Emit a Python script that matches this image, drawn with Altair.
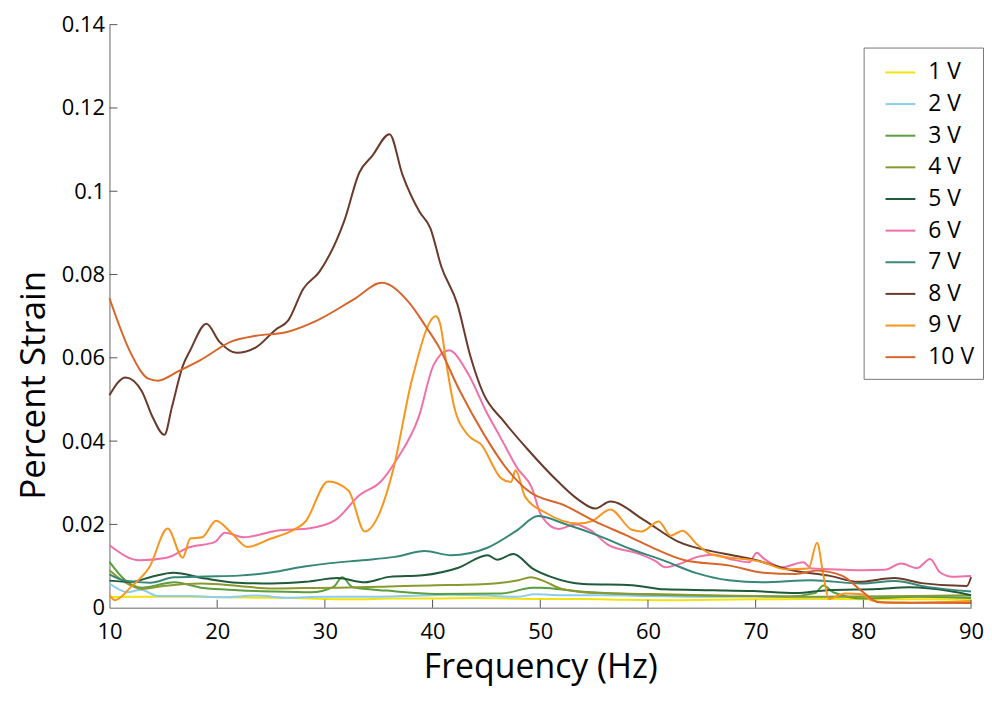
import altair as alt
import pandas as pd

labels = ["1 V", "2 V", "3 V", "4 V", "5 V", "6 V", "7 V", "8 V", "9 V", "10 V"]
colors = ["#F2E30C", "#8CCDEE", "#5A9E3E", "#8A9A30", "#1F5A3A",
          "#F270A8", "#378878", "#6A3A2A", "#F7951E", "#D8652B"]

x_ticks = [10, 20, 30, 40, 50, 60, 70, 80, 90]
y_ticks = [0, 0.02, 0.04, 0.06, 0.08, 0.10, 0.12, 0.14]

f1 = [10, 12, 15, 18, 21, 24, 27, 30, 33, 36, 40, 44, 47, 50, 54, 58, 62, 66, 70, 74, 78, 82, 86, 90]
s1 = [0.0025, 0.0026, 0.0026, 0.0026, 0.0025, 0.0024, 0.0023, 0.0021, 0.0020, 0.0022, 0.0022, 0.0023,
      0.0022, 0.0021, 0.0021, 0.0019, 0.0018, 0.0019, 0.0020, 0.0021, 0.0021, 0.0020, 0.0020, 0.0019]

f2 = [10, 11.7, 12.9, 14.5, 17.5, 20.6, 23.6, 26.6, 29.7, 32.7, 36, 39, 41.7, 45, 47.8, 49.5, 52, 56,
      60, 65, 70, 75, 80, 85, 90]
s2 = [0.0058, 0.0037, 0.0043, 0.0028, 0.0028, 0.0025, 0.0029, 0.0024, 0.0026, 0.0026, 0.0027, 0.0029,
      0.0031, 0.0029, 0.0026, 0.0032, 0.0030, 0.0030, 0.0028, 0.0026, 0.0027, 0.0025, 0.0026, 0.0026, 0.0025]

f3 = [10, 11.5, 13, 16, 18.7, 21.9, 25, 28.7, 30.8, 31.6, 32.6, 35.7, 40.3, 46.4, 49.3, 50, 53.7, 58,
      63, 68, 73, 75.5, 76.3, 77.2, 80, 85, 90]
s3 = [0.0110, 0.0065, 0.0048, 0.0061, 0.0047, 0.0042, 0.0039, 0.0037, 0.0050, 0.0073, 0.0049, 0.0041,
      0.0033, 0.0034, 0.0048, 0.0048, 0.0039, 0.0033, 0.0030, 0.0028, 0.0027, 0.0035, 0.0053, 0.0037,
      0.0022, 0.0026, 0.0023]

f4 = [10, 11.5, 13, 15, 18.6, 22, 25.1, 28, 31.2, 35, 40.3, 43, 46.4, 48, 49.1, 50.5, 52, 55.4, 60,
      65, 70, 75, 80, 85, 90]
s4 = [0.0090, 0.0060, 0.0045, 0.0052, 0.0058, 0.0052, 0.0046, 0.0047, 0.0048, 0.0050, 0.0054, 0.0055,
      0.0060, 0.0066, 0.0073, 0.0062, 0.0045, 0.0035, 0.0033, 0.0030, 0.0028, 0.0026, 0.0027, 0.0028, 0.0030]

f5 = [10, 12, 14, 15.9, 18.9, 21.9, 25.1, 28.2, 31.2, 33.7, 36, 39.1, 42.4, 45.1, 46, 47.5, 49.3, 51,
      54, 58.5, 61.5, 66.1, 69.8, 73.7, 76.7, 81.3, 84.3, 88, 90]
s5 = [0.0065, 0.0062, 0.0075, 0.0084, 0.0070, 0.0060, 0.0058, 0.0062, 0.0071, 0.0061, 0.0074, 0.0078,
      0.0096, 0.0126, 0.0115, 0.0129, 0.0094, 0.0074, 0.0057, 0.0054, 0.0044, 0.0042, 0.0040, 0.0035,
      0.0042, 0.0045, 0.0049, 0.0040, 0.0030]

f6 = [10, 12.8, 15.3, 17.4, 19.8, 20.7, 22.5, 25.5, 28.6, 31.0, 33.2, 35.2, 36.7, 38.7, 40.1, 41.5,
      43.3, 45.0, 46.3, 47.9, 49.2, 50.1, 51.7, 53.3, 54.7, 56.3, 59.1, 60.7, 61.6, 62.8, 64.6, 66.1,
      67.6, 69.4, 70.1, 70.7, 72.5, 74.4, 75.2, 78.3, 79.9, 82.0, 83.5, 85.0, 86.2, 87.1, 88.3, 90]
s6 = [0.0150, 0.0114, 0.0120, 0.0145, 0.0158, 0.0180, 0.0169, 0.0185, 0.0191, 0.0211, 0.0270, 0.0303,
      0.0357, 0.0457, 0.0583, 0.0618, 0.0562, 0.0470, 0.0409, 0.0334, 0.0289, 0.0221, 0.0189, 0.0200,
      0.0185, 0.0151, 0.0130, 0.0112, 0.0097, 0.0104, 0.0122, 0.0127, 0.0117, 0.0109, 0.0132, 0.0119,
      0.0097, 0.0109, 0.0094, 0.0091, 0.0090, 0.0091, 0.0106, 0.0095, 0.0117, 0.0085, 0.0074, 0.0076]

f7 = [10, 11.4, 13.8, 16.0, 19.0, 22.0, 25.1, 28.1, 30.5, 33.5, 36.5, 39.3, 41.7, 45.1, 47.8, 49.8,
      52.3, 55.4, 58.4, 61.5, 64.5, 67.5, 70.6, 75.2, 79.8, 82.9, 85.9, 90]
s7 = [0.0080, 0.0065, 0.0060, 0.0073, 0.0075, 0.0077, 0.0085, 0.0099, 0.0107, 0.0114, 0.0122, 0.0136,
      0.0126, 0.0144, 0.0185, 0.0220, 0.0201, 0.0173, 0.0141, 0.0113, 0.0083, 0.0066, 0.0061, 0.0066,
      0.0058, 0.0064, 0.0050, 0.0039]

f8 = [10, 11.5, 13.0, 14.0, 15.1, 15.8, 16.8, 17.5, 19.0, 20.2, 21.8, 23.6, 25.4, 26.6, 28.0, 29.5,
      31.8, 33.2, 34.4, 36.0, 37.2, 38.8, 39.8, 40.8, 42.3, 43.5, 44.7, 46.6, 48.8, 51.6, 53.5, 55.1,
      56.5, 59.6, 62.7, 67.0, 69.4, 73.7, 76.8, 79.5, 82.9, 85.4, 89.6, 90]
s8 = [0.0510, 0.0553, 0.0520, 0.0458, 0.0415, 0.0482, 0.0580, 0.0618, 0.0682, 0.0639, 0.0612, 0.0625,
      0.0667, 0.0690, 0.0766, 0.0807, 0.0929, 0.1045, 0.1085, 0.1137, 0.1040, 0.0950, 0.0911, 0.0820,
      0.0729, 0.0605, 0.0515, 0.0448, 0.0381, 0.0304, 0.0260, 0.0238, 0.0255, 0.0211, 0.0160, 0.0130,
      0.0118, 0.0088, 0.0077, 0.0062, 0.0071, 0.0059, 0.0052, 0.0073]

f9 = [10, 10.5, 12, 13.7, 15.4, 16.8, 17.5, 18.6, 19.9, 21.3, 22.8, 25.0, 26.8, 28.2, 30.3, 32.2, 33.7,
      35.0, 36.3, 38.1, 40.3, 40.7, 41.3, 42.0, 43.3, 44.5, 46.4, 47.3, 47.7, 48.6, 50.5, 53.5, 54.8,
      56.5, 58.5, 59.4, 61.0, 62.1, 63.2, 64.6, 65.8, 70.7, 72.8, 74.9, 75.7, 76.3, 76.8, 78.3, 79.9,
      80.8, 82.9, 90]
s9 = [0.0030, 0.0018, 0.0050, 0.0097, 0.0190, 0.0120, 0.0166, 0.0169, 0.0209, 0.0180, 0.0146, 0.0166,
      0.0183, 0.0207, 0.0303, 0.0281, 0.0183, 0.0223, 0.0327, 0.0549, 0.0700, 0.0682, 0.0583, 0.0483,
      0.0414, 0.0392, 0.0310, 0.0302, 0.0330, 0.0266, 0.0228, 0.0202, 0.0208, 0.0236, 0.0187, 0.0183,
      0.0207, 0.0173, 0.0185, 0.0151, 0.0129, 0.0109, 0.0092, 0.0094, 0.0156, 0.0076, 0.0021, 0.0034,
      0.0032, 0.0017, 0.0011, 0.0016]

f10 = [10, 12.0, 13.6, 14.5, 16.4, 18.4, 21.4, 23.6, 26.3, 29.3, 32.6, 35.3, 37.8, 39.4, 40.5, 42.5,
       44.8, 46.7, 48.9, 52.3, 55.4, 57.9, 60.6, 63.4, 67.6, 70.7, 73.7, 75.6, 78.0, 79.9, 81.4, 84.5, 90]
s10 = [0.0743, 0.0610, 0.0550, 0.0545, 0.0568, 0.0594, 0.0640, 0.0653, 0.0661, 0.0690, 0.0739, 0.0780,
       0.0733, 0.0674, 0.0630, 0.0522, 0.0415, 0.0340, 0.0280, 0.0245, 0.0203, 0.0175, 0.0142, 0.0114,
       0.0101, 0.0084, 0.0081, 0.0089, 0.0077, 0.0039, 0.0013, 0.0012, 0.0011]

freqs = [f1, f2, f3, f4, f5, f6, f7, f8, f9, f10]
strains = [s1, s2, s3, s4, s5, s6, s7, s8, s9, s10]

rows = []
for i, (name, fs, vs) in enumerate(zip(labels, freqs, strains)):
    for f, v in zip(fs, vs):
        rows.append({"series": name, "idx": i, "freq": f, "strain": v})
df = pd.DataFrame(rows)

W, H = 866, 586
FONT = "Open Sans"
xscale = alt.Scale(domain=[10, 90], nice=False, zero=False)
yscale = alt.Scale(domain=[0, 0.14], nice=False, zero=False)


def x_axis():
    return alt.Axis(values=x_ticks, title="Frequency (Hz)", titleFont=FONT, titleFontSize=34,
                    titleFontWeight="normal", titleColor="black", labelFont=FONT, labelFontSize=22,
                    labelColor="black", ticks=False, grid=False, domainColor="#666666",
                    labelFlush=False, labelOverlap=False, labelPadding=14, titlePadding=8)


def y_axis():
    return alt.Axis(values=y_ticks, format="~g", title="Percent Strain", titleFont=FONT,
                    titleFontSize=35, titleFontWeight="normal", titleColor="black", labelFont=FONT,
                    labelFontSize=22, labelColor="black", ticks=False, grid=False,
                    domainColor="#666666", labelOverlap=False, labelPadding=5, titlePadding=10,
                    titleY=362)


lines = alt.Chart(df).mark_line(strokeWidth=2, interpolate="monotone").encode(
    x=alt.X("freq:Q", scale=xscale, axis=x_axis()),
    y=alt.Y("strain:Q", scale=yscale, axis=y_axis()),
    color=alt.Color("series:N", sort=labels,
                    scale=alt.Scale(domain=labels, range=colors),
                    legend=alt.Legend(title=None, orient="none", legendX=758, legendY=23,
                                      symbolType="stroke", symbolSize=900, symbolStrokeWidth=2,
                                      labelFont=FONT, labelFontSize=23, labelColor="black",
                                      strokeColor="#777777", fillColor="white", padding=9,
                                      rowPadding=3.8, symbolOffset=12, labelOffset=12)),
    detail="idx:N",
)

xtick_df = pd.DataFrame({"freq": x_ticks[1:]})
ytick_df = pd.DataFrame({"strain": y_ticks[1:]})

xt = alt.Chart(xtick_df).mark_rule(color="#555555", strokeWidth=1).encode(
    x=alt.X("freq:Q", scale=xscale, axis=x_axis()), y=alt.value(H), y2=alt.value(H - 8))
yt = alt.Chart(ytick_df).mark_rule(color="#555555", strokeWidth=1).encode(
    y=alt.Y("strain:Q", scale=yscale, axis=y_axis()), x=alt.value(0), x2=alt.value(8))

chart = alt.layer(lines, xt, yt).properties(
    width=W, height=H, background="white",
    padding={"left": 8, "top": 4, "right": 0, "bottom": 8},
).configure_view(stroke=None)

chart.save("out.html", embed_options={"renderer": "svg", "actions": False})
